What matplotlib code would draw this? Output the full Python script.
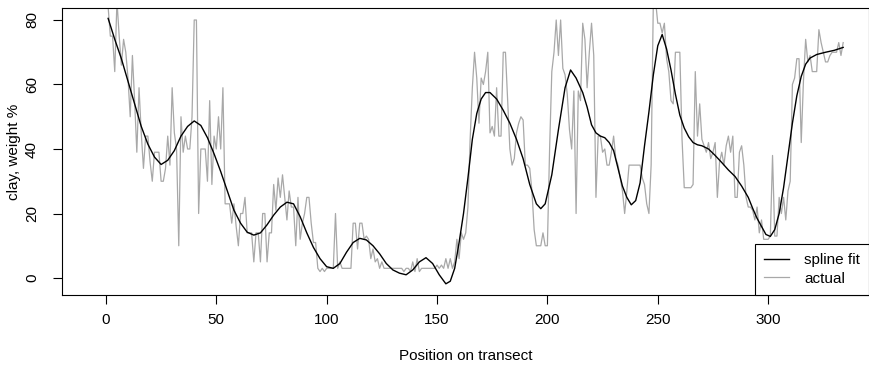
#!/usr/bin/env python3
# Clay content along a transect, raw values and a spline fit

import numpy as np
import matplotlib.pyplot as plt

plt.rcParams['font.family'] = ['Liberation Sans', 'DejaVu Sans']
plt.rcParams['font.size'] = 11

# clay, weight % at each position 1..334
clay = [84, 75, 75, 64, 86, 75, 66, 74, 70, 62,
        50, 69, 55, 39, 59, 45, 34, 44, 44, 36,
        30, 39, 39, 39, 30, 30, 34, 44, 35, 59,
        45, 40, 10, 50, 39, 44, 40, 40, 50, 80,
        80, 20, 40, 40, 40, 30, 55, 29, 44, 40,
        50, 40, 59, 23, 23, 23, 17, 23, 16, 10,
        20, 20, 25, 14, 14, 14, 5, 14, 14, 5,
        20, 20, 5, 14, 14, 29, 21, 31, 25, 32,
        25, 18, 27, 22, 22, 10, 25, 12, 17, 20,
        25, 25, 17, 11, 11, 3, 2, 3, 2, 3,
        3, 3, 3, 20, 3, 5, 3, 3, 3, 3,
        3, 17, 17, 9, 17, 17, 12, 13, 12, 6,
        9, 5, 6, 3, 5, 3, 3, 3, 3, 3,
        3, 3, 3, 3, 2, 3, 3, 2, 5, 2,
        6, 2, 3, 3, 3, 3, 3, 3, 3, 4,
        3, 4, 3, 6, 3, 6, 3, 5, 12, 6,
        14, 12, 14, 22, 43, 59, 70, 62, 48, 62,
        60, 64, 70, 45, 47, 44, 59, 44, 44, 70,
        70, 55, 40, 35, 37, 45, 48, 50, 49, 35,
        35, 34, 27, 15, 10, 10, 10, 14, 10, 10,
        40, 64, 70, 80, 69, 80, 65, 63, 57, 46,
        40, 58, 20, 58, 55, 79, 74, 59, 70, 79,
        69, 25, 44, 44, 39, 40, 35, 35, 39, 44,
        37, 35, 31, 27, 20, 27, 35, 35, 35, 35,
        35, 35, 31, 29, 23, 20, 35, 86, 86, 79,
        79, 76, 79, 68, 64, 55, 54, 70, 70, 70,
        43, 28, 28, 28, 28, 29, 64, 44, 54, 43,
        41, 39, 42, 37, 39, 42, 25, 36, 39, 35,
        41, 44, 39, 44, 25, 25, 39, 41, 35, 25,
        22, 22, 21, 18, 22, 14, 18, 12, 12, 12,
        13, 38, 13, 13, 25, 20, 25, 18, 27, 30,
        60, 62, 68, 68, 42, 61, 74, 67, 69, 64,
        64, 64, 77, 73, 70, 67, 67, 69, 70, 70,
        70, 73, 69, 73]
position = np.arange(1, len(clay) + 1)

# spline fit
spline_x = [1, 4, 7, 10, 13, 16, 19, 22, 25, 28, 31, 34, 37, 40, 43, 46, 49,
            52, 55, 58, 61, 64, 67, 70, 73, 76, 79, 82, 85, 88, 91, 94, 97,
            100, 103, 106, 109, 112, 115, 118, 121, 124, 127, 130, 133, 136,
            139, 142, 145, 148, 151, 154, 156, 158, 160, 162, 164, 166, 168,
            170, 172, 174, 177, 180, 183, 186, 189, 192, 195, 197, 199, 202,
            205, 208, 210.5, 213, 216, 218, 220, 222, 224, 226, 228, 230,
            232, 234, 236, 238, 240, 242, 244, 246, 248, 250, 252, 254, 256,
            258, 260, 262, 264, 266, 268, 270, 273, 276, 279, 282, 285, 288,
            291, 293, 295, 297, 299, 301, 303, 305, 307, 309, 311, 313, 315,
            317, 319, 322, 326, 330, 334]
spline_y = [80.5, 74, 68, 61, 54, 47, 41.5, 37.5, 35.2, 36.5, 39.5, 44, 47,
            48.7, 47.3, 43.5, 38.5, 33, 27, 21, 17, 14.2, 13.3, 14, 16.5,
            19.5, 22, 23.5, 23, 19, 14, 9.5, 6, 3.5, 3, 4.5, 8, 11, 12.3,
            11.8, 10, 7.5, 4.5, 2.5, 1.5, 1, 2.5, 5, 6.3, 4.5, 1, -1.8, -1,
            3, 11, 20, 31, 43, 51, 55.5, 57.5, 57.5, 55.5, 52, 48, 43, 37,
            29, 23, 21.5, 23, 32, 46, 59, 64.5, 62, 57.5, 53, 47.5, 45, 44,
            43.5, 42, 39.5, 34, 28.5, 25, 22.7, 24, 29.5, 41, 51.5, 63, 72,
            75.5, 71, 64.5, 57, 50.5, 46.5, 43.8, 42, 41.3, 41, 40, 38, 35.8,
            33.5, 31.5, 28.5, 25, 21.6, 18.5, 16, 13.5, 12.9, 15, 20, 28, 38,
            48, 56.5, 62.5, 66.3, 68.2, 69.3, 70, 70.6, 71.5]

xticks = [0, 50, 100, 150, 200, 250, 300]
yticks = [0, 20, 40, 60, 80]

fig = plt.figure(figsize=(8.7, 3.65), dpi=100)
ax = fig.add_axes([62/870, 1 - 295/365, 807/870, 287/365])

ax.plot(position, clay, color='#a8a8a8', lw=0.9, label='actual', zorder=2)
ax.plot(spline_x, spline_y, color='black', lw=1.0, label='spline fit', zorder=3)

ax.set_xlim(-19.9, 345.7)
ax.set_ylim(-5.27, 83.72)
ax.set_xticks(xticks)
ax.set_yticks(yticks)
ax.set_yticklabels([str(v) for v in yticks], rotation=90, va='center')
ax.tick_params(direction='out', length=6.5, width=0.8, color='black')
ax.tick_params(axis='x', pad=6.5)
ax.tick_params(axis='y', pad=10)
for s in ax.spines.values():
    s.set_linewidth(0.8)
    s.set_color('black')

ax.set_xlabel('Position on transect', labelpad=16)
ax.set_ylabel('clay, weight %', labelpad=3)

# legend order: spline fit first
h, l = ax.get_legend_handles_labels()
leg = ax.legend(h[::-1], l[::-1], loc='lower right', borderaxespad=0,
                fancybox=False, edgecolor='black', framealpha=1,
                handlelength=1.6, handletextpad=1.0, borderpad=0.6,
                labelspacing=0.3)
leg.get_frame().set_linewidth(0.8)

fig.savefig('out.png', dpi=100)
